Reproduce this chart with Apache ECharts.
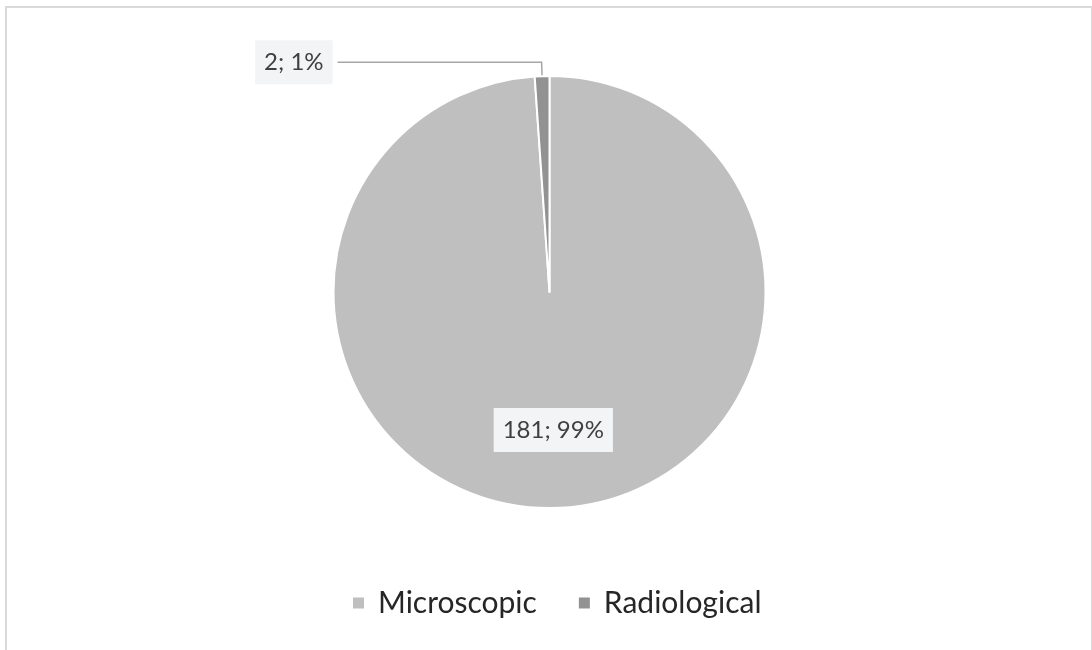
<!DOCTYPE html>
<html>
<head>
<meta charset="utf-8">
<script src="https://cdn.jsdelivr.net/npm/echarts@6/dist/echarts.min.js"></script>
<style>
  html, body { margin: 0; padding: 0; background: #fff; overflow: hidden; }
  #frame { position: absolute; left: 5px; top: 6px; width: 1084px; height: 700px; border: 2px solid #d9d9d9; }
  #chart { position: absolute; left: 0; top: 0; width: 1092px; height: 650px; }
</style>
</head>
<body>
<div id="frame"></div>
<div id="chart"></div>
<script>
const categories = ['Microscopic', 'Radiological']
const counts = [181, 2]
const colors = ['#bfbfbf', '#929292']

const total = counts.reduce((a, b) => a + b, 0)

const chart = echarts.init(document.getElementById('chart'))

const data = categories.map((name, i) => {
  const item = { name, value: counts[i], itemStyle: { color: colors[i] } }
  if (i === 0) {
    item.label = { position: 'inside' }
  } else {
    item.label = { position: 'outside' }
    item.labelLine = { show: true, length: 14, length2: 204, lineStyle: { color: '#a6a6a6', width: 1.5 } }
  }
  return item
})

chart.setOption({
  animation: false,
  legend: {
    bottom: 27,
    left: 346,
    icon: 'rect',
    itemWidth: 13,
    itemHeight: 13,
    itemGap: 40,
    textStyle: { fontFamily: 'Lato', fontSize: 30, color: '#262626', padding: [0, 0, 0, 8] },
    data: categories
  },
  series: [{
    type: 'pie',
    center: [549.5, 292],
    radius: 216,
    startAngle: 90,
    clockwise: true,
    avoidLabelOverlap: false,
    itemStyle: { borderColor: '#fff', borderWidth: 2 },
    label: {
      show: true,
      fontFamily: 'Lato',
      fontSize: 24,
      color: '#404040',
      backgroundColor: '#f3f4f5',
      padding: [10, 9],
      formatter: p => p.value + '; ' + Math.round(p.value / total * 100) + '%'
    },
    labelLayout: p => (p.dataIndex === 0 ? { dy: 27 } : {}),
    data
  }]
})
</script>
</body>
</html>
